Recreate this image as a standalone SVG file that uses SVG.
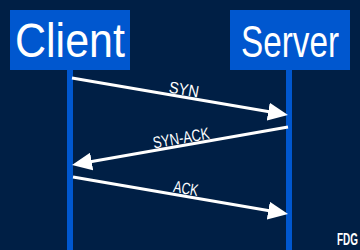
<svg xmlns="http://www.w3.org/2000/svg" width="360" height="250" viewBox="0 0 360 250">
  <defs>
    <style>
      .bg { fill: #001f45; }
      .box { fill: #0057cf; }
      .life { stroke: #0057cf; stroke-width: 6; }
      .title { fill: #ffffff; font-family: "Liberation Sans", Arial, sans-serif; font-size: 48px; }
      .msg { stroke: #ffffff; stroke-width: 3; fill: none; marker-end: url(#arrow); }
      .lbl { fill: #ffffff; font-family: "Liberation Sans", Arial, sans-serif; font-size: 16.5px; text-anchor: middle; }
      .logo { fill: #ffffff; font-family: "Liberation Sans", Arial, sans-serif; font-size: 17px; font-weight: bold; }
    </style>
    <marker id="arrow" markerUnits="userSpaceOnUse" markerWidth="20" markerHeight="18" refX="10" refY="9" orient="auto" viewBox="0 0 20 18">
      <path d="M0,0 L20,9 L0,18 z" fill="#ffffff"/>
    </marker>
  </defs>
  <rect class="bg" x="0" y="0" width="360" height="250"/>

  <g id="client">
    <line class="life" x1="70" y1="70" x2="70" y2="250"/>
    <rect class="box" x="10" y="10" width="120" height="60"/>
    <text class="title" x="0" y="0" transform="translate(15 57) scale(0.896 1)">Client</text>
  </g>

  <g id="server">
    <line class="life" x1="289" y1="70" x2="289" y2="250"/>
    <rect class="box" x="230" y="10" width="120" height="60"/>
    <text class="title" x="0" y="0" style="font-size:45px" transform="translate(241 57) scale(0.74 1)">Server</text>
  </g>

  <g id="connectors">
    <line class="msg" x1="72" y1="78" x2="278.1" y2="113.3"/>
    <text class="lbl" x="183" y="95" transform="rotate(9.7 183 95)" textLength="30" lengthAdjust="spacingAndGlyphs">SYN</text>
    <line class="msg" x1="288" y1="127" x2="81.85" y2="163.27"/>
    <text class="lbl" x="182" y="143.5" transform="rotate(-10 182 143.5)" textLength="57" lengthAdjust="spacingAndGlyphs">SYN-ACK</text>
    <line class="msg" x1="73" y1="177" x2="278.15" y2="212.3"/>
    <text class="lbl" x="185" y="194" transform="rotate(9.8 185 194)" textLength="25" lengthAdjust="spacingAndGlyphs">ACK</text>
  </g>

  <text class="logo" x="0" y="0" transform="translate(337 245) scale(0.585 1)">FDG</text>
</svg>
